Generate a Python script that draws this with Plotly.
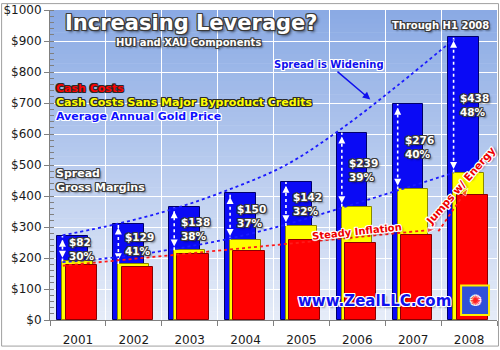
import plotly.graph_objects as go

# ---------------- data ----------------
years = ['2001', '2002', '2003', '2004', '2005', '2006', '2007', '2008']
gold_price = [271, 310, 363, 409, 445, 604, 697, 913]
cash_costs = [176, 171, 213, 224, 257, 248, 273, 403]
spread = [82, 129, 138, 150, 142, 239, 276, 438]
margin_pct = [30, 41, 38, 37, 32, 39, 40, 48]
cash_costs_sans = [g - s for g, s in zip(gold_price, spread)]
gold_trend = [273, 311, 359, 422, 500, 618, 757, 905]
sans_trend = [187, 203, 229, 263, 308, 362, 418, 475]
inflation_trend = [175, 292]
energy_jump = [286, 425]
y_ticks = list(range(0, 1001, 100))
y_labels = [f'${v}' for v in y_ticks]

# ---------------- geometry helpers ----------------
W, H = 500, 350
PL, PR, PT, PB = 49, 497, 7, 322


def px(x):
    return (x - PL) / (PR - PL)


def py(y):
    return (PB - y) / (PB - PT)


def outline(c, w=1, drop=None):
    s = [f"{dx}px {dy}px 0 {c}" for dx in (-w, 0, w) for dy in (-w, 0, w) if dx or dy]
    if drop:
        s.append(drop)
    return ", ".join(s)


FONT = "DejaVu Sans"
n = len(years)
idx = list(range(n))
ARROW_OFF = -0.277
LABEL_OFF = -0.19

fig = go.Figure()

# bars (overlaid, offset within each category)
fig.add_trace(go.Bar(x=years, y=gold_price, offset=-0.37, width=0.55,
                     marker=dict(color='#0a0af5', line=dict(color='#00006a', width=1)),
                     name='Average Annual Gold Price'))
fig.add_trace(go.Bar(x=years, y=cash_costs_sans, offset=-0.28, width=0.55,
                     marker=dict(color='#ffff00', line=dict(color='#8a8a00', width=1)),
                     name='Cash Costs Sans Major Byproduct Credits'))
fig.add_trace(go.Bar(x=years, y=cash_costs, offset=-0.22, width=0.56,
                     marker=dict(color='#ff0000', line=dict(color='#8a0000', width=1)),
                     name='Cash Costs'))

# dotted spread arrows inside the blue bars
ax_x, ax_y = [], []
for i in idx:
    ax_x += [i + ARROW_OFF, i + ARROW_OFF, None]
    ax_y += [cash_costs_sans[i], gold_price[i], None]
fig.add_trace(go.Scatter(x=ax_x, y=ax_y, xaxis='x2', mode='lines',
                         line=dict(color='white', width=1.6, dash='dot'), hoverinfo='skip'))
mk_x, mk_y, mk_s = [], [], []
for i in idx:
    mk_x += [i + ARROW_OFF, i + ARROW_OFF]
    mk_y += [gold_price[i] - 12, cash_costs_sans[i] + 12]
    mk_s += ['arrow-up', 'arrow-down']
fig.add_trace(go.Scatter(x=mk_x, y=mk_y, xaxis='x2', mode='markers',
                         marker=dict(symbol=mk_s, size=7, color='white',
                                     line=dict(width=0)), hoverinfo='skip'))

# trend lines
tx = [i + ARROW_OFF for i in idx]
fig.add_trace(go.Scatter(x=tx, y=gold_trend, xaxis='x2', mode='lines', line_shape='spline',
                         line=dict(color='#1a1aff', width=1.8, dash='dot'), hoverinfo='skip'))
fig.add_trace(go.Scatter(x=tx, y=sans_trend, xaxis='x2', mode='lines', line_shape='spline',
                         line=dict(color='#1a1aff', width=1.8, dash='dot'), hoverinfo='skip'))
fig.add_trace(go.Scatter(x=[0 - 0.27, 6 + 0.39], y=inflation_trend, xaxis='x2', mode='lines+markers',
                         line=dict(color='#ff1a1a', width=1.8, dash='dot'),
                         marker=dict(symbol=['circle', 'arrow'], size=[0, 8], angleref='previous',
                                     color='#ff1a1a'), hoverinfo='skip'))
fig.add_trace(go.Scatter(x=[6 + 0.45, 6 + 0.98], y=energy_jump, xaxis='x2', mode='lines+markers',
                         line=dict(color='#ff1a1a', width=1.8, dash='dot'),
                         marker=dict(symbol=['circle', 'arrow'], size=[0, 8], angleref='previous',
                                     color='#ff1a1a'), hoverinfo='skip'))

# ---------------- background gradient ----------------
shapes = []
NS = 70
top = (138, 170, 228)
bot = (230, 236, 248)
for k in range(NS):
    t = (k + 0.5) / NS
    c = tuple(int(round(top[j] + (bot[j] - top[j]) * t)) for j in range(3))
    shapes.append(dict(type='rect', xref='paper', yref='paper', layer='below',
                       x0=0, x1=1, y1=1 - k / NS, y0=1 - (k + 1) / NS - 0.002,
                       fillcolor=f'rgb{c}', line=dict(width=0)))
# outer border
shapes.append(dict(type='rect', xref='paper', yref='paper',
                   x0=px(0.5), x1=px(498.5), y0=py(348.5), y1=py(0.5),
                   line=dict(color='#a0a0a0', width=1), fillcolor='rgba(0,0,0,0)'))
# logo box
shapes.append(dict(type='rect', xref='paper', yref='paper',
                   x0=px(461), x1=px(489), y0=py(317), y1=py(287),
                   line=dict(color='#ffee00', width=2), fillcolor='#3050d8'))

# ---------------- annotations ----------------
ann = []


def txt(text, x, y, size, color, sh, xanchor='left', angle=0, ref='paper', yref='paper'):
    ann.append(dict(text=text, x=x, y=y, xref=ref, yref=yref, xanchor=xanchor, yanchor='middle',
                    showarrow=False, textangle=angle, align='left',
                    font=dict(family=FONT, size=size, color=color, weight='bold', shadow=sh)))


dark = outline('#3c3c3c', 1, '2px 2px 2px rgba(0,0,0,0.45)')
whiteo = outline('#ffffff', 1, '2px 2px 2px rgba(0,0,0,0.35)')

txt('Increasing Leverage?', px(62), py(20), 21, 'white', outline('#3a3a3a', 1, '2px 2px 3px rgba(0,0,0,0.6)'))
txt('HUI and XAU Components', px(113), py(40), 10, 'white', dark)
txt('Through H1 2008', px(491), py(23), 10, 'white', dark, xanchor='right')
txt('Cash Costs', px(53), py(87), 11, '#ff0000', outline('#2a2a2a', 1))
txt('Cash Costs Sans Major Byproduct Credits', px(53), py(101), 11, '#ffff00', outline('#2a2a2a', 1))
txt('Average Annual Gold Price', px(53), py(115), 11, '#1010ff', outline('#ffffff', 1))
txt('Spread<br>Gross Margins', px(53), py(180), 11, 'white', dark)
txt('Steady Inflation', px(357), py(232), 10, '#ee0000', whiteo, xanchor='center', angle=-6)
txt('Jumps w/ Energy', px(460), py(186), 10.5, '#ee0000', whiteo, xanchor='center', angle=-49)
txt('www.ZealLLC.com', px(374), py(303), 15, '#1010ee', whiteo, xanchor='center')
txt('✺', px(475), py(302), 13, '#ff2020', outline('#ffffff', 1), xanchor='center')

for i in idx:
    txt(f'${spread[i]}<br>{margin_pct[i]}%', i + LABEL_OFF, (gold_price[i] + cash_costs_sans[i]) / 2,
        10.5, 'white', dark, ref='x2', yref='y')

# "Spread is Widening" with arrow
ann.append(dict(text='Spread is Widening', x=(370 - PL) / 56 - 0.5, y=(PB - 98) / 0.315,
                xref='x2', yref='y', ax=-41, ay=-35, showarrow=True, arrowhead=2,
                arrowsize=1, arrowwidth=1.5, arrowcolor='#1010ee', standoff=0,
                font=dict(family=FONT, size=10, color='#1010ee', weight='bold',
                          shadow=outline('#ffffff', 1))))

fig.update_layout(
    width=W, height=H,
    margin=dict(l=PL, r=W - PR, t=PT, b=H - PB),
    paper_bgcolor='white', plot_bgcolor='rgba(0,0,0,0)',
    barmode='overlay', bargap=0, showlegend=False,
    shapes=shapes, annotations=ann,
    xaxis=dict(type='category', range=[-0.5, n - 0.5], tickson='boundaries',
               ticks='outside', ticklen=5, tickcolor='#808080',
               showline=True, linecolor='#808080', linewidth=1,
               showgrid=True, gridcolor='white', gridwidth=1,
               tickfont=dict(family=FONT, size=12, color='#1a1a1a'), ticklabelstandoff=9),
    xaxis2=dict(overlaying='x', range=[-0.5, n - 0.5], visible=False),
    yaxis=dict(range=[0, 1000], tickmode='array', tickvals=y_ticks, ticktext=y_labels,
               ticks='outside', ticklen=5, tickcolor='#808080',
               showline=True, linecolor='#808080', linewidth=1,
               showgrid=True, gridcolor='white', gridwidth=1, zeroline=False,
               minor=dict(dtick=20, ticks='inside', ticklen=4, tickcolor='#808080', showgrid=False),
               tickfont=dict(family=FONT, size=12, color='#1a1a1a')),
)

fig.write_html('out.html')
